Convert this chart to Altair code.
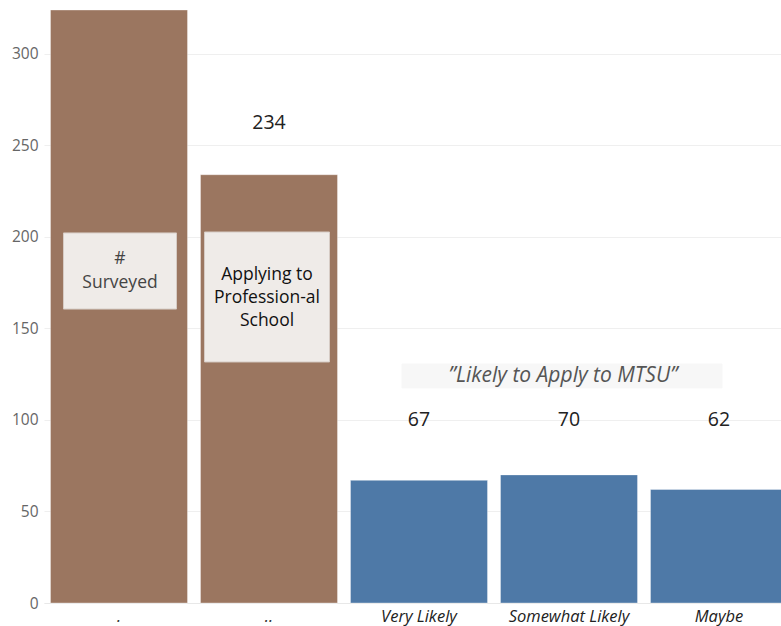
import altair as alt
import pandas as pd

categories = [".", "..", "Very Likely", "Somewhat Likely", "Maybe"]
counts = [324, 234, 67, 70, 62]
groups = ["Total", "Total", "MTSU", "MTSU", "MTSU"]

y_ticks = [0, 50, 100, 150, 200, 250, 300]

note_cats = [".", "..", "Somewhat Likely"]
note_text = ["#\nSurveyed", "Applying to\nProfession-al\nSchool", "\u201dLikely to Apply to MTSU\u201d"]
note_top = [202.2, 202.7, 130.6]
note_bottom = [160.6, 131.7, 117.5]
note_mid = [181.4, 167.2, 123.8]

df = pd.DataFrame({"cat": categories, "count": counts, "group": groups})
notes = pd.DataFrame({"cat": note_cats, "text": note_text, "top": note_top,
                      "bottom": note_bottom, "mid": note_mid})

FONT = "Open Sans"

xscale = alt.Scale(domain=categories, range=[0, 750], paddingInner=0.0867, paddingOuter=0.0433)
yscale = alt.Scale(domain=[0, 324], nice=False)

x = alt.X("cat:N", sort=categories, scale=xscale,
          axis=alt.Axis(title=None, labelAngle=0, labelFontStyle="italic", labelFontSize=16.5,
                        labelColor="#222", labelFont=FONT, ticks=False, labelPadding=5,
                        domain=True, domainColor="#e8e8e8", grid=False))
y = alt.Y("count:Q", scale=yscale,
          axis=alt.Axis(title=None, values=y_ticks, labelFontSize=15.5, labelColor="#666",
                        labelFont=FONT, ticks=False, labelPadding=6, domain=False,
                        gridColor="#efefef"))

base = alt.Chart(df)

bars = base.mark_bar(stroke="#ffffff", strokeOpacity=0.35, strokeWidth=1).encode(
    x=x, y=y,
    color=alt.Color("group:N", scale=alt.Scale(domain=["Total", "MTSU"],
                                               range=["#9B7660", "#4E79A7"]), legend=None),
)

labels = base.transform_filter("datum.count < 300").transform_calculate(
    label_y="datum.group == 'MTSU' ? 100 : datum.count + 28"
).mark_text(fontSize=19.5, color="#222", font=FONT, clip=True).encode(
    x=alt.X("cat:N", sort=categories, scale=xscale),
    y=alt.Y("label_y:Q", scale=yscale),
    text=alt.Text("count:Q"),
)

nb = alt.Chart(notes)
nx = alt.X("cat:N", sort=categories, scale=xscale)

def box(cat, w, fill, stroke, xoff=0):
    return nb.transform_filter(alt.datum.cat == cat).mark_bar(
        width=w, fill=fill, stroke=stroke, strokeWidth=1, xOffset=xoff
    ).encode(x=nx, y=alt.Y("top:Q", scale=yscale), y2="bottom:Q")

box1 = box(".", 113, "#EFEBE8", "#D6CCC5", 1)
box2 = box("..", 125, "#EFEBE8", "#D6CCC5", -2)
box3 = box("Somewhat Likely", 320, "#F7F7F7", "#F7F7F7", -7)

t1 = nb.transform_filter(alt.datum.cat == ".").mark_text(
    fontSize=17.5, lineBreak="\n", lineHeight=24, color="#444", font=FONT, dx=1, dy=-12
).encode(x=nx, y=alt.Y("mid:Q", scale=yscale), text="text:N")
t2 = nb.transform_filter(alt.datum.cat == "..").mark_text(
    fontSize=17.5, lineBreak="\n", lineHeight=23, color="#111", font=FONT, dx=-2, dy=-22
).encode(x=nx, y=alt.Y("mid:Q", scale=yscale), text="text:N")
t3 = nb.transform_filter(alt.datum.cat == "Somewhat Likely").mark_text(
    fontSize=21, fontStyle="italic", color="#555", font=FONT, dx=-6
).encode(x=nx, y=alt.Y("mid:Q", scale=yscale), text="text:N")

chart = alt.layer(bars, labels, box1, box2, box3, t1, t2, t3).properties(
    width=737, height=593,
    autosize=alt.AutoSizeParams(type="none"),
    padding={"left": 44, "top": 10, "right": 0, "bottom": 23},
    background="white",
).configure_view(stroke=None)

chart.save("out.html", embed_options={"renderer": "svg", "actions": False})
